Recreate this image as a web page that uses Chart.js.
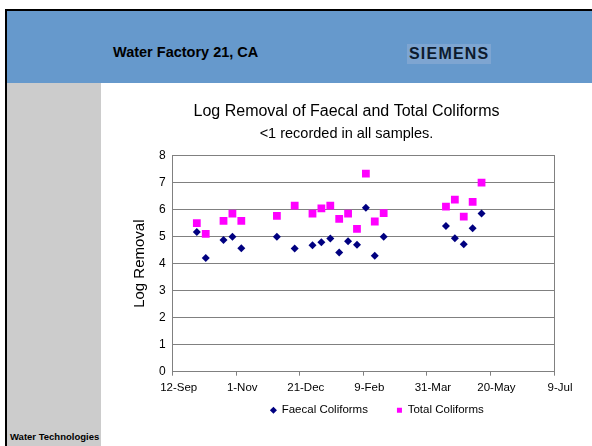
<!DOCTYPE html>
<html>
<head>
<meta charset="utf-8">
<script src="https://cdn.jsdelivr.net/npm/chart.js@4/dist/chart.umd.min.js"></script>
<style>
  body { margin: 0; width: 592px; height: 446px; background: #fff; position: relative; overflow: hidden; font-family: "Liberation Sans", Arial, sans-serif; }
  #frame { position: absolute; left: 5px; top: 9px; width: 600px; height: 450px; border-left: 2px solid #000; border-top: 2px solid #000; }
  #header { position: absolute; left: 7px; top: 11px; width: 585px; height: 72px; background: #6699cc; }
  #side { position: absolute; left: 7px; top: 83px; width: 94px; height: 363px; background: #cccccc; }
  #htitle { position: absolute; left: 113px; top: 44px; font-size: 14.5px; font-weight: bold; color: #000; }
  #logo { position: absolute; left: 407px; top: 44px; padding: 1px 2px; font-size: 16px; font-weight: bold; color: #0d1b2e; background: #7ea5d1; letter-spacing: 1.2px; }
  #foot { position: absolute; left: 10px; top: 431px; font-size: 9.5px; font-weight: bold; color: #000; }
  #wrap { position: absolute; left: 101px; top: 83px; width: 491px; height: 363px; }
</style>
</head>
<body>
<div id="header"></div>
<div id="side"></div>
<div id="frame"></div>
<div id="htitle">Water Factory 21, CA</div>
<div id="logo">SIEMENS</div>
<div id="foot">Water Technologies</div>
<div id="wrap"><canvas id="scatter" width="491" height="363"></canvas></div>
<script>
// axis start and tick labels (every 50 days)
var startDate = '2004-09-12';
var tickLabels = ['12-Sep', '1-Nov', '21-Dec', '9-Feb', '31-Mar', '20-May', '9-Jul'];

// sample dates
var sampleDates = ['2004-10-01', '2004-10-08', '2004-10-22', '2004-10-29', '2004-11-05',
                   '2004-12-03', '2004-12-17', '2004-12-31', '2005-01-07', '2005-01-14',
                   '2005-01-21', '2005-01-28', '2005-02-04', '2005-02-11', '2005-02-18',
                   '2005-02-25', '2005-04-15', '2005-04-22', '2005-04-29', '2005-05-06',
                   '2005-05-13'];
var faecal = [5.17, 4.21, 4.88, 5.00, 4.57, 5.00, 4.56, 4.68, 4.79, 4.93, 4.41,
              4.83, 4.70, 6.07, 4.29, 5.00, 5.39, 4.94, 4.72, 5.31, 5.86];
var total = [5.50, 5.10, 5.58, 5.85, 5.58, 5.77, 6.15, 5.85, 6.05, 6.15, 5.66,
             5.85, 5.29, 7.33, 5.56, 5.87, 6.11, 6.37, 5.74, 6.29, 7.00];

function dayOf(d) {
  return (Date.parse(d + 'T00:00:00Z') - Date.parse(startDate + 'T00:00:00Z')) / 86400000;
}
function points(vals) {
  return sampleDates.map(function (d, i) { return { x: dayOf(d), y: vals[i] }; });
}

Chart.defaults.font.family = '"Liberation Sans", Arial, sans-serif';
Chart.defaults.color = '#000';

// nudge the legend right and up, like the original
var legendShift = {
  id: 'legendShift',
  afterLayout: function (chart) {
    var lg = chart.legend;
    lg.left += 14; lg.right += 14;
    lg.top -= 24; lg.bottom -= 24;
  }
};

var scatter = document.getElementById('scatter');
new Chart(scatter, {
  type: 'scatter',
  data: {
    datasets: [{
      label: 'Faecal Coliforms',
      data: points(faecal),
      pointStyle: 'rectRot',
      pointRadius: 4,
      pointHoverRadius: 4,
      backgroundColor: '#000080',
      borderColor: '#000080',
      borderWidth: 0
    }, {
      label: 'Total Coliforms',
      data: points(total),
      pointStyle: 'rect',
      pointRadius: 5.5,
      pointHoverRadius: 5.5,
      backgroundColor: '#ff00ff',
      borderColor: '#ff00ff',
      borderWidth: 0
    }]
  },
  plugins: [legendShift],
  options: {
    responsive: false,
    animation: false,
    layout: { padding: { left: 0, right: 0, top: 0, bottom: -4 } },
    plugins: {
      title: {
        display: true,
        text: 'Log Removal of Faecal and Total Coliforms',
        font: { size: 16, weight: 'normal' },
        padding: { top: 19, bottom: 2 }
      },
      subtitle: {
        display: true,
        text: '<1 recorded in all samples.',
        font: { size: 14.5 },
        padding: { top: 2, bottom: 13 }
      },
      legend: {
        position: 'bottom',
        fullSize: false,
        labels: {
          usePointStyle: true,
          boxWidth: 5,
          boxHeight: 5,
          padding: 29,
          font: { size: 11.5 }
        }
      },
      tooltip: { enabled: false }
    },
    scales: {
      x: {
        type: 'linear',
        min: 0,
        max: 300,
        grid: { drawOnChartArea: false, tickLength: 4, color: '#808080' },
        border: { color: '#808080' },
        ticks: {
          stepSize: 50,
          padding: 5,
          labelOffset: 6,
          maxRotation: 0,
          font: { size: 11.5 },
          callback: function (v) { return tickLabels[v / 50]; }
        }
      },
      y: {
        min: 0,
        max: 8,
        title: { display: true, text: 'Log Removal', font: { size: 15 }, padding: { top: 30, bottom: 3 } },
        grid: { color: '#808080', drawTicks: false },
        border: { color: '#808080' },
        ticks: { stepSize: 1, padding: 7, font: { size: 12 } }
      },
      y2: {
        position: 'right',
        min: 0,
        max: 8,
        grid: { drawOnChartArea: false, drawTicks: false },
        border: { color: '#808080' },
        ticks: { display: false },
        afterFit: function (s) { s.width = 38; }
      }
    }
  }
});
</script>
</body>
</html>
